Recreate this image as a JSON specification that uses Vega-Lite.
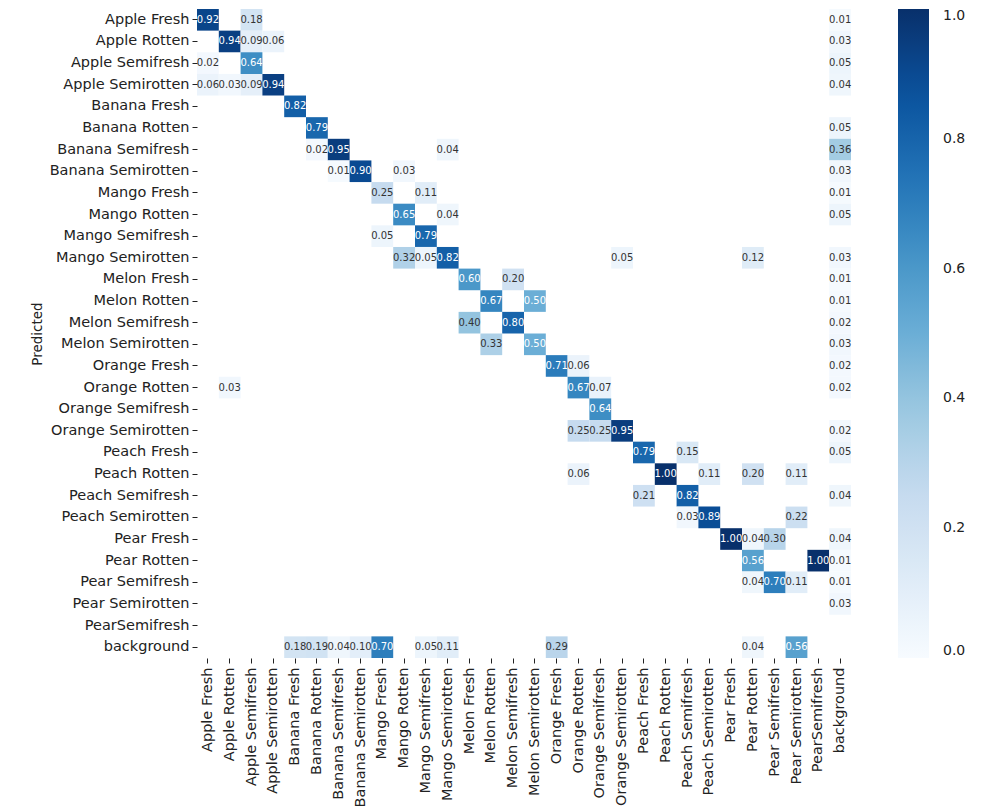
{
  "$schema": "https://vega.github.io/schema/vega-lite/v6.json",
  "autosize": {"type": "none"},
  "padding": {"left": 197, "top": 9, "right": 139, "bottom": 154},
  "width": 654,
  "height": 649,
  "background": "white",
  "config": {
    "font": "DejaVu Sans",
    "view": {"stroke": null},
    "axis": {"labelFont": "DejaVu Sans", "titleFont": "DejaVu Sans", "labelColor": "#222222", "titleColor": "#222222", "tickColor": "#222222", "domain": false, "grid": false, "labelFontSize": 14.5, "titleFontSize": 13.5, "titleFontWeight": "normal", "tickSize": 5}
  },
  "datasets": {
    "cm": [
      {"p": "Apple Fresh", "t": "Apple Fresh", "v": 0.92},
      {"p": "Apple Fresh", "t": "Apple Semifresh", "v": 0.18},
      {"p": "Apple Fresh", "t": "background", "v": 0.01},
      {"p": "Apple Rotten", "t": "Apple Rotten", "v": 0.94},
      {"p": "Apple Rotten", "t": "Apple Semifresh", "v": 0.09},
      {"p": "Apple Rotten", "t": "Apple Semirotten", "v": 0.06},
      {"p": "Apple Rotten", "t": "background", "v": 0.03},
      {"p": "Apple Semifresh", "t": "Apple Fresh", "v": 0.02},
      {"p": "Apple Semifresh", "t": "Apple Semifresh", "v": 0.64},
      {"p": "Apple Semifresh", "t": "background", "v": 0.05},
      {"p": "Apple Semirotten", "t": "Apple Fresh", "v": 0.06},
      {"p": "Apple Semirotten", "t": "Apple Rotten", "v": 0.03},
      {"p": "Apple Semirotten", "t": "Apple Semifresh", "v": 0.09},
      {"p": "Apple Semirotten", "t": "Apple Semirotten", "v": 0.94},
      {"p": "Apple Semirotten", "t": "background", "v": 0.04},
      {"p": "Banana Fresh", "t": "Banana Fresh", "v": 0.82},
      {"p": "Banana Rotten", "t": "Banana Rotten", "v": 0.79},
      {"p": "Banana Rotten", "t": "background", "v": 0.05},
      {"p": "Banana Semifresh", "t": "Banana Rotten", "v": 0.02},
      {"p": "Banana Semifresh", "t": "Banana Semifresh", "v": 0.95},
      {"p": "Banana Semifresh", "t": "Mango Semirotten", "v": 0.04},
      {"p": "Banana Semifresh", "t": "background", "v": 0.36},
      {"p": "Banana Semirotten", "t": "Banana Semifresh", "v": 0.01},
      {"p": "Banana Semirotten", "t": "Banana Semirotten", "v": 0.90},
      {"p": "Banana Semirotten", "t": "Mango Rotten", "v": 0.03},
      {"p": "Banana Semirotten", "t": "background", "v": 0.03},
      {"p": "Mango Fresh", "t": "Mango Fresh", "v": 0.25},
      {"p": "Mango Fresh", "t": "Mango Semifresh", "v": 0.11},
      {"p": "Mango Fresh", "t": "background", "v": 0.01},
      {"p": "Mango Rotten", "t": "Mango Rotten", "v": 0.65},
      {"p": "Mango Rotten", "t": "Mango Semirotten", "v": 0.04},
      {"p": "Mango Rotten", "t": "background", "v": 0.05},
      {"p": "Mango Semifresh", "t": "Mango Fresh", "v": 0.05},
      {"p": "Mango Semifresh", "t": "Mango Semifresh", "v": 0.79},
      {"p": "Mango Semirotten", "t": "Mango Rotten", "v": 0.32},
      {"p": "Mango Semirotten", "t": "Mango Semifresh", "v": 0.05},
      {"p": "Mango Semirotten", "t": "Mango Semirotten", "v": 0.82},
      {"p": "Mango Semirotten", "t": "Orange Semirotten", "v": 0.05},
      {"p": "Mango Semirotten", "t": "Pear Rotten", "v": 0.12},
      {"p": "Mango Semirotten", "t": "background", "v": 0.03},
      {"p": "Melon Fresh", "t": "Melon Fresh", "v": 0.60},
      {"p": "Melon Fresh", "t": "Melon Semifresh", "v": 0.20},
      {"p": "Melon Fresh", "t": "background", "v": 0.01},
      {"p": "Melon Rotten", "t": "Melon Rotten", "v": 0.67},
      {"p": "Melon Rotten", "t": "Melon Semirotten", "v": 0.50},
      {"p": "Melon Rotten", "t": "background", "v": 0.01},
      {"p": "Melon Semifresh", "t": "Melon Fresh", "v": 0.40},
      {"p": "Melon Semifresh", "t": "Melon Semifresh", "v": 0.80},
      {"p": "Melon Semifresh", "t": "background", "v": 0.02},
      {"p": "Melon Semirotten", "t": "Melon Rotten", "v": 0.33},
      {"p": "Melon Semirotten", "t": "Melon Semirotten", "v": 0.50},
      {"p": "Melon Semirotten", "t": "background", "v": 0.03},
      {"p": "Orange Fresh", "t": "Orange Fresh", "v": 0.71},
      {"p": "Orange Fresh", "t": "Orange Rotten", "v": 0.06},
      {"p": "Orange Fresh", "t": "background", "v": 0.02},
      {"p": "Orange Rotten", "t": "Apple Rotten", "v": 0.03},
      {"p": "Orange Rotten", "t": "Orange Rotten", "v": 0.67},
      {"p": "Orange Rotten", "t": "Orange Semifresh", "v": 0.07},
      {"p": "Orange Rotten", "t": "background", "v": 0.02},
      {"p": "Orange Semifresh", "t": "Orange Semifresh", "v": 0.64},
      {"p": "Orange Semirotten", "t": "Orange Rotten", "v": 0.25},
      {"p": "Orange Semirotten", "t": "Orange Semifresh", "v": 0.25},
      {"p": "Orange Semirotten", "t": "Orange Semirotten", "v": 0.95},
      {"p": "Orange Semirotten", "t": "background", "v": 0.02},
      {"p": "Peach Fresh", "t": "Peach Fresh", "v": 0.79},
      {"p": "Peach Fresh", "t": "Peach Semifresh", "v": 0.15},
      {"p": "Peach Fresh", "t": "background", "v": 0.05},
      {"p": "Peach Rotten", "t": "Orange Rotten", "v": 0.06},
      {"p": "Peach Rotten", "t": "Peach Rotten", "v": 1.00},
      {"p": "Peach Rotten", "t": "Peach Semirotten", "v": 0.11},
      {"p": "Peach Rotten", "t": "Pear Rotten", "v": 0.20},
      {"p": "Peach Rotten", "t": "Pear Semirotten", "v": 0.11},
      {"p": "Peach Semifresh", "t": "Peach Fresh", "v": 0.21},
      {"p": "Peach Semifresh", "t": "Peach Semifresh", "v": 0.82},
      {"p": "Peach Semifresh", "t": "background", "v": 0.04},
      {"p": "Peach Semirotten", "t": "Peach Semifresh", "v": 0.03},
      {"p": "Peach Semirotten", "t": "Peach Semirotten", "v": 0.89},
      {"p": "Peach Semirotten", "t": "Pear Semirotten", "v": 0.22},
      {"p": "Pear Fresh", "t": "Pear Fresh", "v": 1.00},
      {"p": "Pear Fresh", "t": "Pear Rotten", "v": 0.04},
      {"p": "Pear Fresh", "t": "Pear Semifresh", "v": 0.30},
      {"p": "Pear Fresh", "t": "background", "v": 0.04},
      {"p": "Pear Rotten", "t": "Pear Rotten", "v": 0.56},
      {"p": "Pear Rotten", "t": "PearSemifresh", "v": 1.00},
      {"p": "Pear Rotten", "t": "background", "v": 0.01},
      {"p": "Pear Semifresh", "t": "Pear Rotten", "v": 0.04},
      {"p": "Pear Semifresh", "t": "Pear Semifresh", "v": 0.70},
      {"p": "Pear Semifresh", "t": "Pear Semirotten", "v": 0.11},
      {"p": "Pear Semifresh", "t": "background", "v": 0.01},
      {"p": "Pear Semirotten", "t": "background", "v": 0.03},
      {"p": "background", "t": "Banana Fresh", "v": 0.18},
      {"p": "background", "t": "Banana Rotten", "v": 0.19},
      {"p": "background", "t": "Banana Semifresh", "v": 0.04},
      {"p": "background", "t": "Banana Semirotten", "v": 0.10},
      {"p": "background", "t": "Mango Fresh", "v": 0.70},
      {"p": "background", "t": "Mango Semifresh", "v": 0.05},
      {"p": "background", "t": "Mango Semirotten", "v": 0.11},
      {"p": "background", "t": "Orange Fresh", "v": 0.29},
      {"p": "background", "t": "Pear Rotten", "v": 0.04},
      {"p": "background", "t": "Pear Semirotten", "v": 0.56}
    ]
  },
  "data": {"name": "cm"},
  "encoding": {
    "x": {
      "field": "t", "type": "nominal",
      "scale": {"domain": ["Apple Fresh","Apple Rotten","Apple Semifresh","Apple Semirotten","Banana Fresh","Banana Rotten","Banana Semifresh","Banana Semirotten","Mango Fresh","Mango Rotten","Mango Semifresh","Mango Semirotten","Melon Fresh","Melon Rotten","Melon Semifresh","Melon Semirotten","Orange Fresh","Orange Rotten","Orange Semifresh","Orange Semirotten","Peach Fresh","Peach Rotten","Peach Semifresh","Peach Semirotten","Pear Fresh","Pear Rotten","Pear Semifresh","Pear Semirotten","PearSemifresh","background"], "paddingInner": 0, "paddingOuter": 0},
      "axis": {"title": null, "labelAngle": 270, "labelAlign": "right", "labelBaseline": "middle", "labelPadding": 4}
    },
    "y": {
      "field": "p", "type": "nominal",
      "scale": {"domain": ["Apple Fresh","Apple Rotten","Apple Semifresh","Apple Semirotten","Banana Fresh","Banana Rotten","Banana Semifresh","Banana Semirotten","Mango Fresh","Mango Rotten","Mango Semifresh","Mango Semirotten","Melon Fresh","Melon Rotten","Melon Semifresh","Melon Semirotten","Orange Fresh","Orange Rotten","Orange Semifresh","Orange Semirotten","Peach Fresh","Peach Rotten","Peach Semifresh","Peach Semirotten","Pear Fresh","Pear Rotten","Pear Semifresh","Pear Semirotten","PearSemifresh","background"], "paddingInner": 0, "paddingOuter": 0},
      "axis": {"title": "Predicted", "titlePadding": 5, "labelPadding": 3}
    }
  },
  "layer": [
    {
      "mark": {"type": "rect"},
      "encoding": {
        "color": {
          "field": "v", "type": "quantitative",
          "scale": {"domain": [0, 0.125, 0.25, 0.375, 0.5, 0.625, 0.75, 0.875, 1], "range": ["#f7fbff", "#deebf7", "#c6dbef", "#9ecae1", "#6baed6", "#4292c6", "#2171b5", "#08519c", "#08306b"]},
          "legend": {"title": null, "orient": "none", "legendX": 701, "legendY": 0, "direction": "vertical", "gradientLength": 649, "gradientThickness": 31, "values": [0, 0.2, 0.4, 0.6, 0.8, 1.0], "format": ".1f", "labelFontSize": 14, "labelFont": "DejaVu Sans", "labelColor": "#222222", "labelOffset": 14, "gradientStrokeWidth": 0}
        }
      }
    },
    {
      "mark": {"type": "text", "fontSize": 10, "font": "DejaVu Sans"},
      "encoding": {
        "text": {"field": "v", "type": "quantitative", "format": ".2f"},
        "color": {"condition": {"test": "datum.v >= 0.45", "value": "white"}, "value": "#333333"}
      }
    }
  ]
}
